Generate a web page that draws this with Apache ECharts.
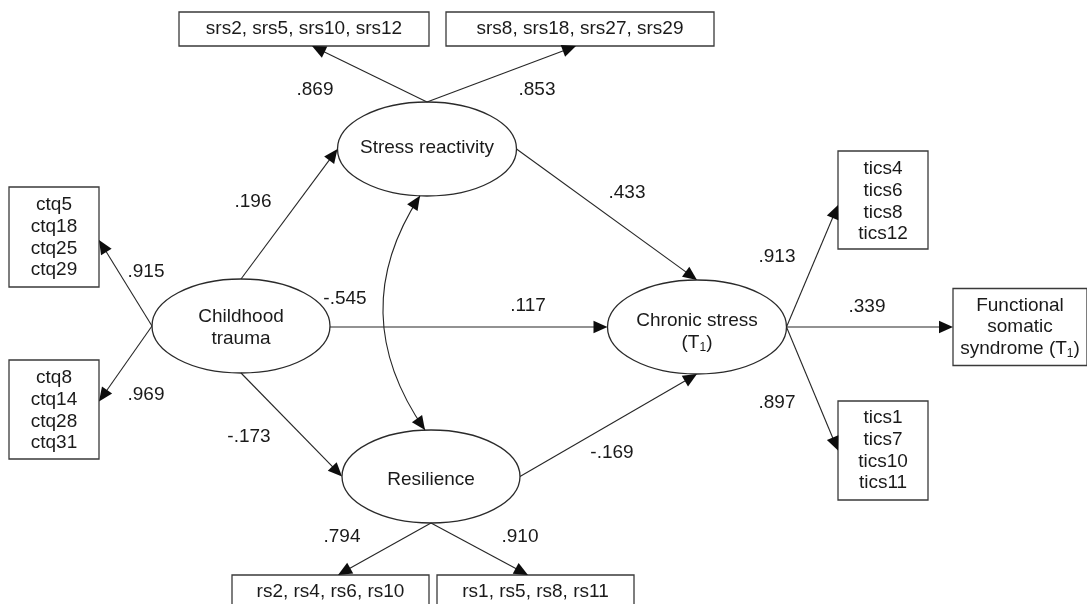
<!DOCTYPE html>
<html>
<head>
<meta charset="utf-8">
<script src="https://cdn.jsdelivr.net/npm/echarts/dist/echarts.min.js"></script>
<style>html,body{margin:0;padding:0;background:#fff}#c{width:1087px;height:604px}</style>
</head>
<body>
<div id="c"></div>
<script>
// ---------- DATA ----------
const nodeIds = ['srsA','srsB','stress','ctqA','child','ctqB','chronic','ticsA','fss','ticsB','resil','rsA','rsB'];
const nodeLabels = [
  'srs2, srs5, srs10, srs12',
  'srs8, srs18, srs27, srs29',
  'Stress reactivity',
  'ctq5\nctq18\nctq25\nctq29',
  'Childhood\ntrauma',
  'ctq8\nctq14\nctq28\nctq31',
  'Chronic stress\n(T{sub|1})',
  'tics4\ntics6\ntics8\ntics12',
  'Functional\nsomatic\nsyndrome (T{sub|1})',
  'tics1\ntics7\ntics10\ntics11',
  'Resilience',
  'rs2, rs4, rs6, rs10',
  'rs1, rs5, rs8, rs11'
];
const pathFrom = ['stress','stress','child','child','child','child','child','stress','resil','chronic','chronic','chronic','resil','resil','stress'];
const pathTo   = ['srsA','srsB','stress','ctqA','ctqB','chronic','resil','chronic','chronic','ticsA','fss','ticsB','rsA','rsB','resil'];
const pathCoef = [0.869, 0.853, 0.196, 0.915, 0.969, 0.117, -0.173, 0.433, -0.169, 0.913, 0.339, 0.897, 0.794, 0.910, -0.545];

// ---------- LAYOUT (diagram geometry, not data) ----------
const nodeLayout = {
  srsA:   {shape:'rect',    x:304,   y:29,    w:250, h:34},
  srsB:   {shape:'rect',    x:580,   y:29,    w:268, h:34},
  stress: {shape:'ellipse', x:427,   y:149,   w:179, h:94, dy:-1},
  ctqA:   {shape:'rect',    x:54,    y:237,   w:90,  h:100, dy:0.5},
  child:  {shape:'ellipse', x:241,   y:326,   w:178, h:94, dy:2},
  ctqB:   {shape:'rect',    x:54,    y:409.5, w:90,  h:99, dy:1},
  chronic:{shape:'ellipse', x:697,   y:327,   w:179, h:94, dy:5},
  ticsA:  {shape:'rect',    x:883,   y:200,   w:90,  h:98, dy:1.5},
  fss:    {shape:'rect',    x:1020,  y:327,   w:134, h:77},
  ticsB:  {shape:'rect',    x:883,   y:450.5, w:90,  h:99},
  resil:  {shape:'ellipse', x:431,   y:476.5, w:178, h:93, dy:3},
  rsA:    {shape:'rect',    x:330.5, y:592,   w:197, h:34},
  rsB:    {shape:'rect',    x:535.5, y:592,   w:197, h:34}
};
const pathLayout = [
  {from:['top',0],     to:['bottom',8],   label:[315,90]},
  {from:['top',0],     to:['bottom',-4],  label:[537,90]},
  {from:['top',0],     to:['left',0],     label:[253,202]},
  {from:['left',0],    to:['right',3],    label:[146,272]},
  {from:['left',0],    to:['right',-8],   label:[146,395]},
  {from:['right',1],   to:['left',0],     label:[528,306]},
  {from:['bottom',0],  to:['left',0],     label:[249,437]},
  {from:['right',0],   to:['top',0],      label:[627,193]},
  {from:['right',0],   to:['bottom',0],   label:[612,453]},
  {from:['right',0],   to:['left',5],     label:[777,257]},
  {from:['right',0],   to:['left',0],     label:[867,307]},
  {from:['right',0],   to:['left',0],     label:[777,403]},
  {from:['bottom',0],  to:['top',7.5],    label:[342,537]},
  {from:['bottom',0],  to:['top',-7.5],   label:[520,537]},
  {from:['bottom',-7], to:['top',-6], bend:-79, both:true, label:[345,299]}
];

const FONT = '"Liberation Sans", Arial, Helvetica, sans-serif';
const FS = 19;
const INK = '#1a1a1a';
const LINE = '#262626';

function fmt(v) {
  return v.toFixed(3).replace(/^(-?)0\./, '$1.');
}
function anchor(id, side, off) {
  const n = nodeLayout[id], hw = n.w / 2, hh = n.h / 2;
  if (n.shape === 'rect') {
    if (side === 'top') return [n.x + off, n.y - hh];
    if (side === 'bottom') return [n.x + off, n.y + hh];
    if (side === 'left') return [n.x - hw, n.y + off];
    return [n.x + hw, n.y + off];
  }
  if (side === 'top' || side === 'bottom') {
    const k = Math.sqrt(1 - (off / hw) * (off / hw)) * hh;
    return [n.x + off, side === 'top' ? n.y - k : n.y + k];
  }
  const k = Math.sqrt(1 - (off / hh) * (off / hh)) * hw;
  return [side === 'left' ? n.x - k : n.x + k, n.y + off];
}
function unit(a, b) {
  const dx = b[0] - a[0], dy = b[1] - a[1], l = Math.hypot(dx, dy);
  return [dx / l, dy / l];
}
function head(tip, dir) {
  const L = 14, W = 6.2;
  const bx = tip[0] - dir[0] * L, by = tip[1] - dir[1] * L;
  return {
    type: 'polygon',
    shape: {points: [tip, [bx - dir[1] * W, by + dir[0] * W], [bx + dir[1] * W, by - dir[0] * W]]},
    style: {fill: '#0d0d0d'}
  };
}

const chart = echarts.init(document.getElementById('c'), null, {renderer: 'canvas'});

const nodeSeriesData = nodeIds.map((id, i) => [nodeLayout[id].x, nodeLayout[id].y, i]);
const pathSeriesData = pathCoef.map((c, i) => [pathLayout[i].label[0], pathLayout[i].label[1], c]);

chart.setOption({
  animation: false,
  backgroundColor: '#fff',
  grid: {left: 0, right: 0, top: 0, bottom: 0},
  xAxis: {type: 'value', min: 0, max: 1087, show: false},
  yAxis: {type: 'value', min: 0, max: 604, inverse: true, show: false},
  series: [
    {
      type: 'custom',
      name: 'variables',
      clip: false,
      data: nodeSeriesData,
      renderItem: function (params, api) {
        const i = params.dataIndex;
        const n = nodeLayout[nodeIds[i]];
        const c = api.coord([api.value(0), api.value(1)]);
        const s = api.size([n.w, n.h]);
        const shapeEl = n.shape === 'rect'
          ? {type: 'rect', shape: {x: c[0] - s[0] / 2, y: c[1] - s[1] / 2, width: s[0], height: s[1]},
             style: {fill: '#fff', stroke: '#3a3a3a', lineWidth: 1.3}}
          : {type: 'ellipse', shape: {cx: c[0], cy: c[1], rx: s[0] / 2, ry: s[1] / 2},
             style: {fill: '#fff', stroke: '#2a2a2a', lineWidth: 1.3}};
        return {
          type: 'group',
          children: [
            shapeEl,
            {
              type: 'text',
              style: {
                text: nodeLabels[i],
                x: c[0], y: c[1] + (n.dy || 0),
                align: 'center', verticalAlign: 'middle',
                fontFamily: FONT, fontSize: FS, lineHeight: 21.7,
                fill: INK,
                rich: {sub: {fontSize: 12, fontFamily: FONT, verticalAlign: 'bottom', fill: INK}}
              }
            }
          ]
        };
      }
    },
    {
      type: 'custom',
      name: 'paths',
      clip: false,
      data: pathSeriesData,
      renderItem: function (params, api) {
        const i = params.dataIndex;
        const p = pathLayout[i];
        const a = api.coord(anchor(pathFrom[i], p.from[0], p.from[1]));
        const b = api.coord(anchor(pathTo[i], p.to[0], p.to[1]));
        const lab = api.coord([api.value(0), api.value(1)]);
        const children = [];
        if (p.bend) {
          const mx = (a[0] + b[0]) / 2, my = (a[1] + b[1]) / 2;
          const cp = [mx + p.bend, my];
          children.push({type: 'bezierCurve',
            shape: {x1: a[0], y1: a[1], x2: b[0], y2: b[1], cpx1: cp[0], cpy1: cp[1]},
            style: {stroke: LINE, lineWidth: 1.1, fill: null}});
          children.push(head(b, unit(cp, b)));
          if (p.both) children.push(head(a, unit(cp, a)));
        } else {
          const d = unit(a, b);
          const e = [b[0] - d[0] * 7, b[1] - d[1] * 7];
          children.push({type: 'line', shape: {x1: a[0], y1: a[1], x2: e[0], y2: e[1]},
            style: {stroke: LINE, lineWidth: 1.1}});
          children.push(head(b, d));
        }
        children.push({type: 'text', style: {
          text: fmt(api.value(2)), x: lab[0], y: lab[1],
          align: 'center', verticalAlign: 'middle',
          fontFamily: FONT, fontSize: FS, fill: INK}});
        return {type: 'group', children: children};
      }
    }
  ]
});
</script>
</body>
</html>
